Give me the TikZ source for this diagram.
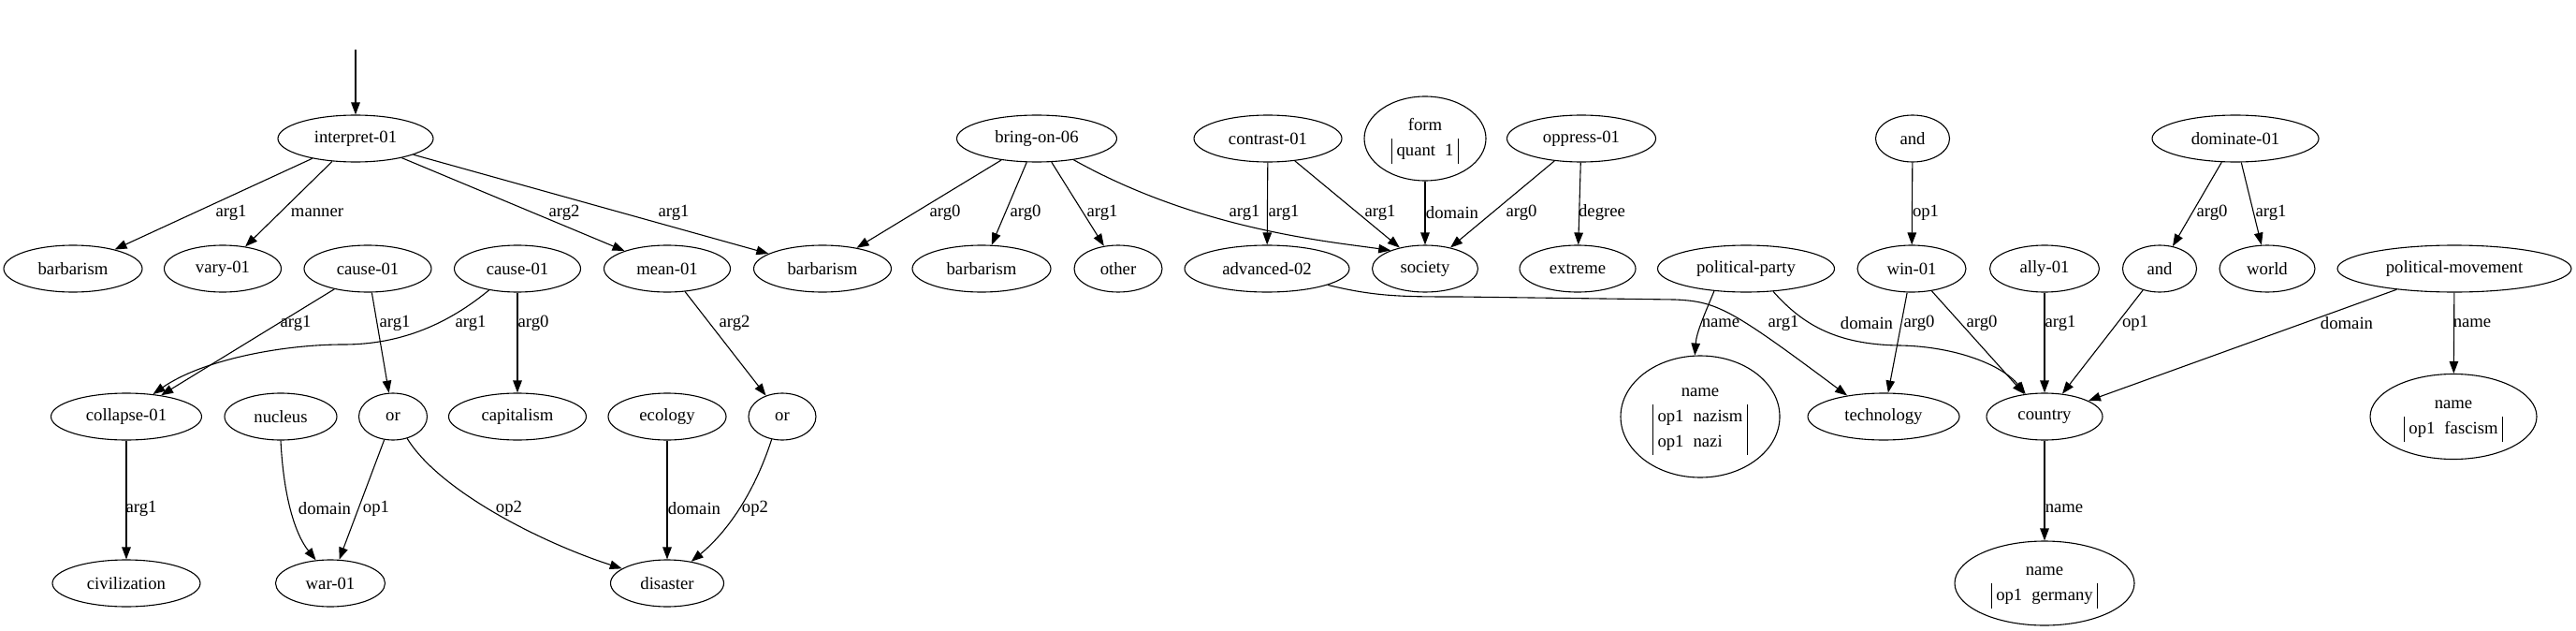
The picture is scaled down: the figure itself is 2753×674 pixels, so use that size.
\documentclass[tikz,border=0pt]{standalone}
\usepackage{fontspec}
\setmainfont{Liberation Serif}
\usetikzlibrary{arrows.meta,shapes.geometric}
\newcommand{\amrfont}{\fontsize{18.7}{27}\selectfont}
\setlength{\tabcolsep}{5pt}
\setlength{\arrayrulewidth}{1.1pt}

\begin{document}
\begin{tikzpicture}[x=1pt,y=-1pt,
  concept/.style={draw,ellipse,line width=1.1pt,inner sep=0pt,minimum height=50pt,font=\amrfont},
  rel/.style={font=\amrfont,inner sep=1pt},
  arr/.style={-{Triangle[length=13pt,width=9.5pt]},line width=1.1pt}]
  \useasboundingbox (0,0) rectangle (2753,674);
  % top row
  \coordinate (top) at (380,53);
  \node[concept,minimum width=166pt] (interp) at (380,148) {interpret-01};
  \node[concept,minimum width=171pt] (bringon) at (1108,148) {bring-on-06};
  \node[concept,minimum width=158pt] (contrast) at (1355,148) {contrast-01};
  \node[concept,minimum width=130pt,minimum height=90pt] (form) at (1523,148) {\begin{tabular}{|l l|}\multicolumn{2}{c}{form}\\ quant & 1\end{tabular}};
  \node[concept,minimum width=159pt] (oppress) at (1690,148) {oppress-01};
  \node[concept,minimum width=79pt] (andtop) at (2044,148) {and};
  \node[concept,minimum width=178pt] (dominate) at (2389,148) {dominate-01};
  % second row
  \node[concept,minimum width=148pt] (barbA) at (78,287) {barbarism};
  \node[concept,minimum width=125pt] (vary) at (238,287) {vary-01};
  \node[concept,minimum width=136pt] (causeA) at (393,287) {cause-01};
  \node[concept,minimum width=135pt] (causeB) at (553,287) {cause-01};
  \node[concept,minimum width=135pt] (mean) at (713,287) {mean-01};
  \node[concept,minimum width=147pt] (barbB) at (879,287) {barbarism};
  \node[concept,minimum width=148pt] (barbC) at (1049,287) {barbarism};
  \node[concept,minimum width=94pt] (other) at (1195,287) {other};
  \node[concept,minimum width=176pt] (advanced) at (1354,287) {advanced-02};
  \node[concept,minimum width=113pt] (society) at (1523,287) {society};
  \node[concept,minimum width=124pt] (extreme) at (1686,287) {extreme};
  \node[concept,minimum width=189pt] (party) at (1866,287) {political-party};
  \node[concept,minimum width=116pt] (win) at (2043,287) {win-01};
  \node[concept,minimum width=117pt] (ally) at (2185,287) {ally-01};
  \node[concept,minimum width=79pt] (andB) at (2308,287) {and};
  \node[concept,minimum width=102pt] (world) at (2423,287) {world};
  \node[concept,minimum width=250pt] (movement) at (2623,287) {political-movement};
  % third row
  \node[concept,minimum width=161pt] (collapse) at (135,445) {collapse-01};
  \node[concept,minimum width=120pt] (nucleus) at (300,445) {nucleus};
  \node[concept,minimum width=73pt] (orA) at (420,445) {or};
  \node[concept,minimum width=147pt] (capitalism) at (553,445) {capitalism};
  \node[concept,minimum width=126pt] (ecology) at (713,445) {ecology};
  \node[concept,minimum width=72pt] (orB) at (836,445) {or};
  \node[concept,minimum width=170pt,minimum height=130pt] (nazism) at (1817,445) {\begin{tabular}{|l l|}\multicolumn{2}{c}{name}\\ op1 & nazism\\ op1 & nazi\end{tabular}};
  \node[concept,minimum width=162pt] (technology) at (2013,445) {technology};
  \node[concept,minimum width=124pt] (country) at (2185,445) {country};
  \node[concept,minimum width=178pt,minimum height=91pt] (fascism) at (2622,445) {\begin{tabular}{|l l|}\multicolumn{2}{c}{name}\\ op1 & fascism\end{tabular}};
  % bottom row
  \node[concept,minimum width=158pt] (civil) at (135,623) {civilization};
  \node[concept,minimum width=117pt] (war) at (353,623) {war-01};
  \node[concept,minimum width=121pt] (disaster) at (713,623) {disaster};
  \node[concept,minimum width=192pt,minimum height=90pt] (germany) at (2185,623) {\begin{tabular}{|l l|}\multicolumn{2}{c}{name}\\ op1 & germany\end{tabular}};

  \draw[arr] (top) -- (interp);
  \draw[arr] (interp) -- (barbA) node[rel] at (247,227) {arg1};
  \draw[arr] (interp) -- (vary) node[rel] at (339,227) {manner};
  \draw[arr] (interp) -- (mean) node[rel] at (603,227) {arg2};
  \draw[arr] (interp) -- (barbB) node[rel] at (720,227) {arg1};
  \draw[arr] (bringon) -- (barbB) node[rel] at (1010,227) {arg0};
  \draw[arr] (bringon) -- (barbC) node[rel] at (1096,227) {arg0};
  \draw[arr] (bringon) -- (other) node[rel] at (1178,227) {arg1};
  \draw[arr] (bringon.-30) .. controls (1280,245) and (1420,258) .. (society.152) node[rel] at (1330,227) {arg1};
  \draw[arr] (contrast) -- (advanced) node[rel] at (1372,227) {arg1};
  \draw[arr] (contrast) -- (society) node[rel] at (1475,227) {arg1};
  \draw[arr] (form) -- (society) node[rel] at (1552,227) {domain};
  \draw[arr] (oppress) -- (society) node[rel] at (1626,227) {arg0};
  \draw[arr] (oppress) -- (extreme) node[rel] at (1712,227) {degree};
  \draw[arr] (andtop) -- (win) node[rel] at (2058,227) {op1};
  \draw[arr] (dominate) -- (andB) node[rel] at (2364,227) {arg0};
  \draw[arr] (dominate) -- (world) node[rel] at (2427,227) {arg1};

  \draw[arr] (causeA) -- (collapse) node[rel] at (316,345) {arg1};
  \draw[arr] (causeA) -- (orA) node[rel] at (422,345) {arg1};
  \draw[arr] (causeB.-143) .. controls (480,345) and (430,368) .. (367,368) .. controls (300,368) and (215,385) .. (collapse.40) node[rel] at (503,345) {arg1};
  \draw[arr] (causeB) -- (capitalism) node[rel] at (570,345) {arg0};
  \draw[arr] (mean) -- (orB) node[rel] at (785,345) {arg2};
  \draw[arr] (party.-145) .. controls (1822,335) and (1813,355) .. (nazism.95) node[rel] at (1839,345) {name};
  \draw[arr] (advanced.-15) .. controls (1470,317) and (1500,317) .. (1560,317) -- (1790,320) .. controls (1835,322) and (1850,330) .. (technology.150) node[rel] at (1906,345) {arg1};
  \draw[arr] (party.-40) .. controls (1925,345) and (1960,368) .. (2030,369) .. controls (2090,370) and (2140,390) .. (country.130) node[rel] at (1995,345) {domain};
  \draw[arr] (win) -- (technology) node[rel] at (2051,345) {arg0};
  \draw[arr] (win) -- (country) node[rel] at (2118,345) {arg0};
  \draw[arr] (ally) -- (country) node[rel] at (2202,345) {arg1};
  \draw[arr] (andB) -- (country) node[rel] at (2282,345) {op1};
  \draw[arr] (movement) -- (country) node[rel] at (2508,345) {domain};
  \draw[arr] (movement) -- (fascism) node[rel] at (2642,345) {name};

  \draw[arr] (collapse) -- (civil) node[rel] at (151,543) {arg1};
  \draw[arr] (nucleus.south) .. controls (303,530) and (315,570) .. (war.122) node[rel] at (347,543) {domain};
  \draw[arr] (orA) -- (war) node[rel] at (402,543) {op1};
  \draw[arr] (orA.-57) .. controls (470,525) and (580,580) .. (disaster.162) node[rel] at (544,543) {op2};
  \draw[arr] (ecology) -- (disaster) node[rel] at (742,543) {domain};
  \draw[arr] (orB.-115) .. controls (805,530) and (775,570) .. (disaster.42) node[rel] at (807,543) {op2};
  \draw[arr] (country) -- (germany) node[rel] at (2206,543) {name};
\end{tikzpicture}
\end{document}
